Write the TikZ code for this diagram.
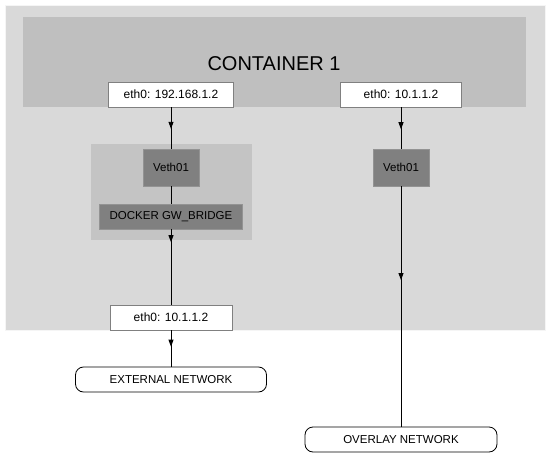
\documentclass[tikz,border=0pt]{standalone}
\usepackage{fontspec}
\setmainfont{Liberation Sans}
\usetikzlibrary{arrows.meta,decorations.markings}
\definecolor{outerbg}{HTML}{D9D9D9}
\definecolor{contbg}{HTML}{BFBFBF}
\definecolor{groupbg}{HTML}{C4C4C4}
\definecolor{devbg}{HTML}{808080}
\tikzset{
  ifbox/.style={draw=gray, line width=0.6pt, fill=white, minimum height=25pt, inner sep=0pt, font=\fontsize{12}{14}\selectfont},
  devbox/.style={draw=devbg!85!white, line width=0.6pt, fill=devbg, inner sep=0pt, font=\fontsize{11.5}{14}\selectfont},
  netbox/.style={draw=black, line width=0.8pt, fill=white, rounded corners=8pt, minimum height=25pt, inner sep=0pt, font=\fontsize{11.5}{14}\selectfont},
  link/.style={line width=0.9pt, black},
  midarrow/.style={postaction={decorate}, decoration={markings, mark=at position #1 with {\arrow{Triangle[length=7pt,width=5pt]}}}}
}
\begin{document}
\begin{tikzpicture}[x=1pt,y=-1pt]
\useasboundingbox (0,0) rectangle (550,458);
% backgrounds
\fill[outerbg] (5,5) rectangle (545,330);
\draw[white!92!gray, line width=0.5pt] (5,5) rectangle (545,330);
\fill[contbg] (23,17) rectangle (526,107);
\node[font=\fontsize{20}{24}\selectfont] (title) at (274,64) {CONTAINER 1};
\fill[groupbg] (91,144) rectangle (252,240);
% nodes
\node[ifbox, minimum width=125pt] (ethL) at (171,94.5) {eth0: 192.168.1.2};
\node[ifbox, minimum width=121pt] (ethR) at (401,94.5) {eth0: 10.1.1.2};
\node[devbox, minimum width=56pt, minimum height=37pt] (vethL) at (171,167.5) {Veth01};
\node[devbox, minimum width=143pt, minimum height=25pt] (docker) at (171,216.5) {DOCKER GW\_BRIDGE};
\node[devbox, minimum width=56pt, minimum height=37pt] (vethR) at (401,167.5) {Veth01};
\node[ifbox, minimum width=122pt] (ethLow) at (171,317.5) {eth0: 10.1.1.2};
\node[netbox, minimum width=191pt] (ext) at (171,379.5) {EXTERNAL NETWORK};
\node[netbox, minimum width=192pt] (ovl) at (401,439.5) {OVERLAY NETWORK};
% connectors
\draw[link, midarrow=0.52] (ethL.south) -- (vethL.north);
\draw[link] (vethL.south) -- (docker.north);
\draw[link, midarrow=0.17] (docker.south) -- (ethLow.north);
\draw[link, midarrow=0.45] (ethLow.south) -- (ext.north);
\draw[link, midarrow=0.53] (ethR.south) -- (vethR.north);
\draw[link, midarrow=0.39] (vethR.south) -- (ovl.north);
\end{tikzpicture}
\end{document}
